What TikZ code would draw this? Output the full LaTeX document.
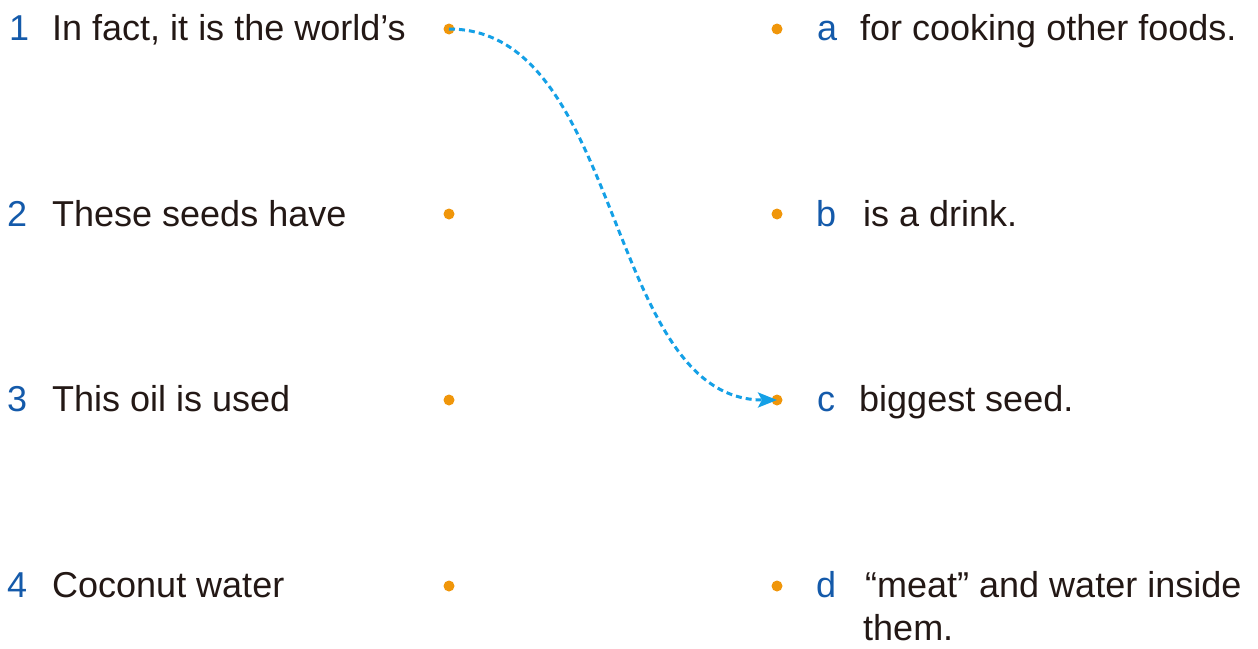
\documentclass[tikz,border=0pt]{standalone}
\usepackage{fontspec}
\setmainfont{Liberation Sans}
\usetikzlibrary{arrows.meta}
\definecolor{numblue}{RGB}{20,90,170}
\definecolor{dotorange}{RGB}{240,150,10}
\definecolor{linkcyan}{RGB}{20,160,230}
\definecolor{txt}{RGB}{35,24,21}
\tikzset{
  lbl/.style={anchor=base west, inner sep=0pt, font=\fontsize{36}{43}\selectfont, text=txt},
  num/.style={anchor=base west, inner sep=0pt, font=\fontsize{36}{43}\selectfont, text=numblue},
  dot/.style={circle, fill=dotorange, inner sep=0pt, minimum size=11pt},
  link/.style={draw=linkcyan, line width=3pt, dash pattern=on 6pt off 4pt, -{Stealth[length=19pt,width=15pt,inset=4pt]}}
}
\begin{document}
\begin{tikzpicture}[x=1pt,y=-1pt]
\useasboundingbox (0,0) rectangle (1258,648);
% left column
\node[num] (n1) at (9,40) {1};
\node[lbl] (t1) at (52,40) {In fact, it is the world’s};
\node[num] (n2) at (7,226) {2};
\node[lbl] (t2) at (52,226) {These seeds have};
\node[num] (n3) at (7,411) {3};
\node[lbl] (t3) at (52,411) {This oil is used};
\node[num] (n4) at (7,597) {4};
\node[lbl] (t4) at (52,597) {Coconut water};
\node[dot] (l1) at (449,29) {};
\node[dot] (l2) at (449,214) {};
\node[dot] (l3) at (449,400) {};
\node[dot] (l4) at (449,586) {};
% right column
\node[dot] (r1) at (777,29) {};
\node[dot] (r2) at (777,214) {};
\node[dot] (r3) at (777,400) {};
\node[dot] (r4) at (777,586) {};
\node[num] (la) at (817,40) {a};
\node[lbl] (ta) at (860,40) {for cooking other foods.};
\node[num] (lb) at (816,226) {b};
\node[lbl] (tb) at (863,226) {is a drink.};
\node[num] (lc) at (817,411) {c};
\node[lbl] (tc) at (859,411) {biggest seed.};
\node[num] (ld) at (816,597) {d};
\node[lbl] (td) at (865,597) {“meat” and water inside};
\node[lbl] (td2) at (863,640) {them.};
% connector
\draw[link] (l1.center) .. controls +(175,0) and +(-172,0) .. (r3.center);
\end{tikzpicture}
\end{document}
